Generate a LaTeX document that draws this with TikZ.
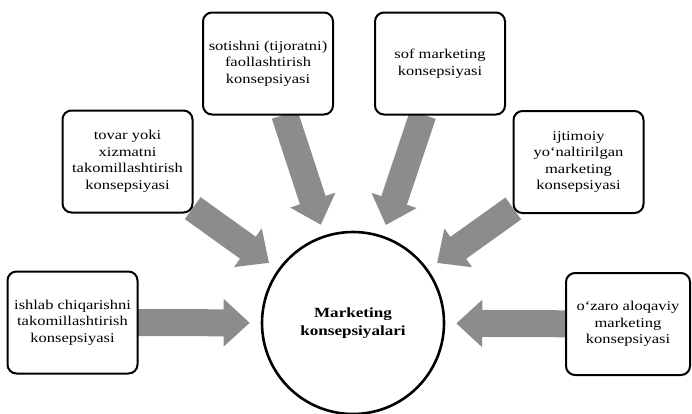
\documentclass[tikz,border=0pt]{standalone}
\usepackage{fontspec}
\setmainfont{Liberation Serif}[FakeStretch=1.22]
\usetikzlibrary{arrows.meta,backgrounds}
\tikzset{
  konbox/.style={draw,rounded corners=9pt,line width=2pt,fill=white,align=center,
    minimum width=130pt,minimum height=102pt,inner sep=2pt,
    font=\fontsize{13.5}{16.5}\selectfont},
  markcirc/.style={draw,circle,line width=2.6pt,fill=white,minimum size=182pt,align=center,
    font=\fontsize{14}{18}\selectfont\bfseries},
  flow/.style={draw=black!45,line width=27pt,-{Triangle[width=46pt,length=26pt]},
    shorten >=11pt,shorten <=-1pt}
}
\begin{document}
\begin{tikzpicture}[x=1pt,y=-1pt]
   \useasboundingbox (0,0) rectangle (692,413);
   \node[markcirc] (mk) at (353,323) {Marketing\\konsepsiyalari};
   \node[konbox] (b1) at (72.5,322.5) {ishlab chiqarishni\\takomillashtirish\\konsepsiyasi};
   \node[konbox] (b2) at (127.5,161.5) {tovar yoki\\xizmatni\\takomillashtirish\\konsepsiyasi};
   \node[konbox] (b3) at (268,63.5) {sotishni (tijoratni)\\faollashtirish\\konsepsiyasi};
   \node[konbox] (b4) at (440,63.5) {sof marketing\\konsepsiyasi};
   \node[konbox] (b5) at (578.5,162) {ijtimoiy\\yo`naltirilgan\\marketing\\konsepsiyasi};
   \node[konbox,minimum width=124pt] (b6) at (628,324) {o`zaro aloqaviy\\marketing\\konsepsiyasi};

   \begin{pgfonlayer}{background}
   \draw[flow] (b1) -- (mk);
   \draw[flow] (b2) -- (mk);
   \draw[flow] (b3) -- (mk);
   \draw[flow] (b4) -- (mk);
   \draw[flow] (b5) -- (mk);
   \draw[flow] (b6) -- (mk);
   \end{pgfonlayer}
\end{tikzpicture}
\end{document}
